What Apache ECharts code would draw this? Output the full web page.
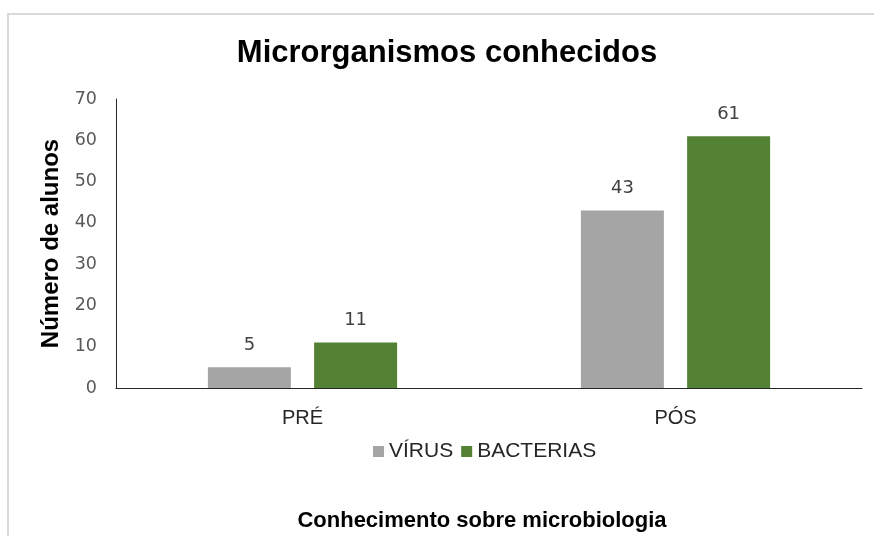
<!DOCTYPE html>
<html>
<head>
<meta charset="utf-8">
<script src="https://cdn.jsdelivr.net/npm/echarts@6/dist/echarts.min.js"></script>
<style>
  html, body { margin: 0; padding: 0; background: #fff; }
  #chart { width: 874px; height: 536px; }
</style>
</head>
<body>
<div id="chart"></div>
<script>
  var categories = ['PRÉ', 'PÓS'];
  var virus = [5, 43];
  var bacterias = [11, 61];
  var yTicks = { min: 0, max: 70, interval: 10 };

  var myChart = echarts.init(document.getElementById('chart'));

  var option = {
    backgroundColor: '#fff',
    animation: false,
    title: [
      {
        text: 'Microrganismos conhecidos',
        left: 447,
        top: 38,
        textAlign: 'center',
        padding: 0,
        textStyle: {
          fontFamily: 'Liberation Sans',
          fontSize: 31,
          fontWeight: 'bold',
          color: '#000'
        }
      },
      {
        text: 'Conhecimento sobre microbiologia',
        left: 482,
        top: 510,
        textAlign: 'center',
        padding: 0,
        textStyle: {
          fontFamily: 'Liberation Sans',
          fontSize: 22,
          fontWeight: 'bold',
          color: '#000'
        }
      }
    ],
    graphic: [
      {
        type: 'rect',
        shape: { x: 8, y: 14, width: 900, height: 600 },
        style: { fill: 'none', stroke: '#d9d9d9', lineWidth: 2 },
        silent: true
      }
    ],
    legend: {
      left: 373,
      top: 441,
      padding: 0,
      itemWidth: 11,
      itemHeight: 11,
      itemGap: 8,
      icon: 'rect',
      textStyle: {
        fontFamily: 'Liberation Sans',
        fontSize: 21,
        color: '#262626'
      },
      data: ['VÍRUS', 'BACTERIAS']
    },
    grid: {
      left: 116,
      right: 12,
      top: 99,
      bottom: 148
    },
    xAxis: {
      type: 'category',
      data: categories,
      axisLine: { lineStyle: { color: '#262626', width: 1 } },
      axisTick: { show: false },
      axisLabel: {
        margin: 20,
        fontFamily: 'Liberation Sans',
        fontSize: 20,
        color: '#262626'
      }
    },
    yAxis: {
      type: 'value',
      min: yTicks.min,
      max: yTicks.max,
      interval: yTicks.interval,
      name: 'Número de alunos',
      nameLocation: 'middle',
      nameRotate: 90,
      nameGap: 47,
      nameTextStyle: {
        fontFamily: 'Liberation Sans',
        fontSize: 24,
        fontWeight: 'bold',
        color: '#000'
      },
      axisLine: { show: true, lineStyle: { color: '#262626', width: 1 } },
      axisTick: { show: false },
      splitLine: { show: false },
      axisLabel: {
        margin: 19,
        fontFamily: 'DejaVu Sans',
        fontSize: 17.5,
        color: '#595959'
      }
    },
    series: [
      {
        name: 'VÍRUS',
        type: 'bar',
        data: virus,
        barWidth: 83,
        barGap: '28%',
        itemStyle: { color: '#a5a5a5' },
        label: {
          show: true,
          position: 'top',
          distance: 13,
          fontFamily: 'DejaVu Sans',
          fontSize: 18,
          color: '#404040'
        }
      },
      {
        name: 'BACTERIAS',
        type: 'bar',
        data: bacterias,
        barWidth: 83,
        barGap: '28%',
        itemStyle: { color: '#548235' },
        label: {
          show: true,
          position: 'top',
          distance: 13,
          fontFamily: 'DejaVu Sans',
          fontSize: 18,
          color: '#404040'
        }
      }
    ]
  };

  myChart.setOption(option, true);
</script>
</body>
</html>
